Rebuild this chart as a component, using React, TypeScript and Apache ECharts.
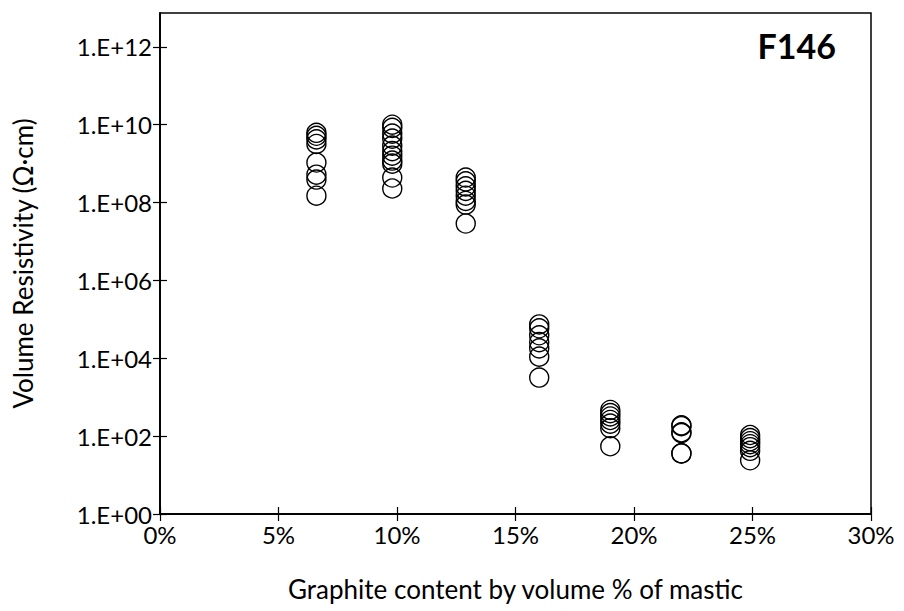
import React, { useEffect, useRef } from "react";
import * as echarts from "echarts";

const xTicks = [0, 0.05, 0.1, 0.15, 0.2, 0.25, 0.3];
const yTicks = [1, 1e2, 1e4, 1e6, 1e8, 1e10, 1e12];

const x066 = [0.066, 0.066, 0.066, 0.066, 0.066, 0.066, 0.066, 0.066];
const y066 = [6.2e9, 5.2e9, 4.2e9, 3.2e9, 1.07e9, 5.2e8, 3.9e8, 1.5e8];
const x098 = [0.098, 0.098, 0.098, 0.098, 0.098, 0.098, 0.098, 0.098, 0.098, 0.098, 0.098];
const y098 = [1.0e10, 8.3e9, 5.9e9, 4.4e9, 2.9e9, 2.1e9, 1.6e9, 1.2e9, 1.0e9, 4.4e8, 2.3e8];
const x129 = [0.129, 0.129, 0.129, 0.129, 0.129, 0.129, 0.129, 0.129];
const y129 = [4.4e8, 3.5e8, 2.6e8, 2.0e8, 1.5e8, 1.1e8, 8.9e7, 2.9e7];
const x160 = [0.16, 0.16, 0.16, 0.16, 0.16, 0.16, 0.16];
const y160 = [7.4e4, 5.9e4, 3.9e4, 2.6e4, 1.8e4, 1.1e4, 3.2e3];
const x190 = [0.19, 0.19, 0.19, 0.19, 0.19, 0.19, 0.19];
const y190 = [470, 390, 320, 260, 210, 160, 55];
const x220 = [0.22, 0.22, 0.22, 0.22, 0.22, 0.22];
const y220 = [190, 180, 126, 120, 36, 36];
const x249 = [0.249, 0.249, 0.249, 0.249, 0.249, 0.249, 0.249];
const y249 = [107, 89, 74, 62, 52, 42, 24];

const xs = [x066, x098, x129, x160, x190, x220, x249];
const ys = [y066, y098, y129, y160, y190, y220, y249];

const FONT = "Lato";

export default function App() {
  const ref = useRef<HTMLDivElement>(null);
  useEffect(() => {
    document.body.style.margin = "0";
    const chart = echarts.init(ref.current!, null, { renderer: "svg" });
    const points: number[][] = [];
    xs.forEach((arr, i) => arr.forEach((x, j) => points.push([x, ys[i][j]])));
    const yLabel = (v: number) => {
      const e = Math.round(Math.log10(v));
      return "1.E+" + String(e).padStart(2, "0");
    };
    const baseX = {
      type: "value",
      min: xTicks[0],
      max: xTicks[xTicks.length - 1],
      interval: 0.05,
      splitLine: { show: false },
      axisLine: { show: true, onZero: false, lineStyle: { color: "#000", width: 1.5 } },
    };
    const baseY = {
      type: "log",
      logBase: 100,
      min: 1,
      max: Math.pow(10, 12.87),
      position: "left",
      splitLine: { show: false },
      axisLine: { show: true, lineStyle: { color: "#000", width: 1.5 } },
    };
    chart.setOption({
      animation: false,
      grid: {
        left: 160,
        right: 33,
        top: 13,
        bottom: 97,
        show: true,
        borderColor: "#000",
        borderWidth: 1.5,
      },
      xAxis: [
        {
          ...baseX,
          name: "Graphite content by volume % of mastic",
          nameLocation: "middle",
          nameGap: 62,
          nameTextStyle: { fontFamily: FONT, fontSize: 26, color: "#000" },
          axisTick: { show: true, inside: false, length: 7, lineStyle: { color: "#000", width: 1.2 } },
          axisLabel: {
            margin: 8,
            fontFamily: FONT,
            fontSize: 24,
            color: "#000",
            formatter: (v: number) => Math.round(v * 100) + "%",
          },
        },
        {
          ...baseX,
          position: "bottom",
          axisTick: { show: true, inside: true, length: 7, lineStyle: { color: "#000", width: 1.2 } },
          axisLabel: { show: false },
        },
      ],
      yAxis: [
        {
          ...baseY,
          name: "Volume Resistivity (Ω·cm)",
          nameLocation: "middle",
          nameGap: 124,
          nameRotate: 90,
          nameTextStyle: { fontFamily: FONT, fontSize: 26, color: "#000" },
          axisTick: {
            show: true,
            inside: false,
            length: 7,
            lineStyle: { color: "#000", width: 1.2 },
            customValues: yTicks,
          },
          axisLabel: {
            margin: 8,
            fontFamily: FONT,
            fontSize: 24,
            color: "#000",
            customValues: yTicks,
            formatter: yLabel,
          },
        },
        {
          ...baseY,
          axisTick: {
            show: true,
            inside: true,
            length: 7,
            lineStyle: { color: "#000", width: 1.2 },
            customValues: yTicks,
          },
          axisLabel: { show: false, customValues: yTicks },
        },
      ],
      graphic: [
        {
          type: "text",
          right: 68,
          top: 28,
          style: {
            text: "F146",
            fontFamily: FONT,
            fontWeight: "bold",
            fontSize: 34,
            fill: "#000",
          },
        },
      ],
      series: [
        {
          type: "scatter",
          xAxisIndex: 0,
          yAxisIndex: 0,
          symbol: "circle",
          symbolSize: 19,
          data: points,
          itemStyle: { color: "rgba(0,0,0,0)", borderColor: "#000", borderWidth: 1.4, opacity: 1 },
        },
      ],
    });
    return () => chart.dispose();
  }, []);
  return <div ref={ref} style={{ width: 904, height: 611 }} />;
}
